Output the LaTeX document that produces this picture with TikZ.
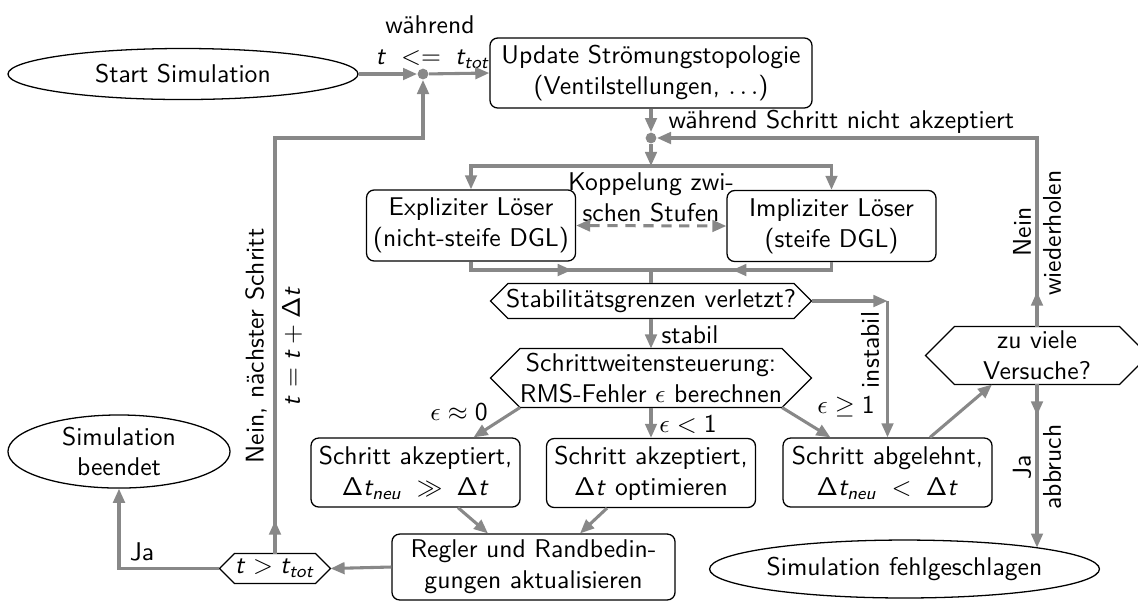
\documentclass[tikz,border=0pt]{standalone}
\usetikzlibrary{shapes.geometric,arrows.meta,calc}
\renewcommand{\familydefault}{\sfdefault}
\DeclareMathAlphabet{\mathsfit}{OT1}{cmss}{m}{sl}
\newcommand{\ti}{\mathsfit{t}}
\newcommand{\dT}{\mathsf{\Delta}\mathsfit{t}}
\definecolor{lc}{RGB}{136,136,136}
\tikzset{
  nodeline/.style={draw=black, line width=0.5pt},
  box/.style={nodeline, rectangle, rounded corners=3pt, align=center, inner sep=1pt},
  ell/.style={nodeline, ellipse, align=center, inner sep=0pt},
  hexn/.style={rectangle, draw=none, align=center, inner sep=0pt},
  ln/.style={draw=lc, line width=1.2pt},
  arr/.style={ln, -{Triangle[length=5.5pt,width=4.5pt]}},
  darr/.style={ln, dash pattern=on 4pt off 3pt, {Triangle[length=5.5pt,width=4.5pt]}-{Triangle[length=5.5pt,width=4.5pt]}},
  dotn/.style={circle, fill=lc, inner sep=0pt, minimum size=4.2pt},
  lbl/.style={inner sep=0pt, align=center},
  vlbl/.style={inner sep=0pt, align=center, rotate=90}
}
\newcommand{\hexo}[1]{%
  \draw[nodeline] let \p1=(#1.north), \p2=(#1.center), \n1={\y1-\y2} in
  (#1.west) -- ($(#1.north west)+(\n1,0pt)$) -- ($(#1.north east)+(-\n1,0pt)$) -- (#1.east)
  -- ($(#1.south east)+(-\n1,0pt)$) -- ($(#1.south west)+(\n1,0pt)$) -- cycle;}
\begin{document}
\begin{tikzpicture}[x=0.39pt,y=-0.39pt]
\useasboundingbox (0,0) rectangle (1138,600);
% nodes
\node[ell, minimum width=136.5pt, minimum height=19.9pt] (start) at (183,74) {Start Simulation};
\node[dotn] (d1) at (423,74) {};
\node[box, minimum width=125.6pt, minimum height=27.3pt] (upd) at (651,73) {Update Strömungstopologie\\(Ventilstellungen, $\ldots$)};
\node[dotn] (d2) at (651,138) {};
\coordinate (split) at (651,166);
\node[box, minimum width=81.5pt, minimum height=27.7pt] (expl) at (471,225.5) {Expliziter Löser\\(nicht-steife DGL)};
\node[box, minimum width=81.5pt, minimum height=27.7pt] (impl) at (831.5,226) {Impliziter Löser\\(steife DGL)};
\node[lbl] (kop) at (651,197) {Koppelung zwi-\\schen Stufen};
\coordinate (merge) at (651,270);
\node[hexn, minimum width=124.8pt, minimum height=13.3pt] (stab) at (651,301) {Stabilitätsgrenzen verletzt?};
\node[hexn, minimum width=124.8pt, minimum height=22.6pt] (sw) at (651,378) {Schrittweitensteuerung:\\RMS-Fehler $\epsilon$ berechnen};
\node[box, minimum width=81.5pt, minimum height=26.9pt] (akz1) at (415.5,472.5) {Schritt akzeptiert,\\$\dT_{\mathsfit{neu}} \;\gg\; \dT$};
\node[box, minimum width=81.5pt, minimum height=26.9pt] (akz2) at (651,473) {Schritt akzeptiert,\\$\dT$ optimieren};
\node[box, minimum width=81.5pt, minimum height=26.9pt] (abg) at (887.5,472.5) {Schritt abgelehnt,\\$\dT_{\mathsfit{neu}} \;<\; \dT$};
\node[box, minimum width=110.4pt, minimum height=25.7pt] (reg) at (533.5,567) {Regler und Randbedin-\\gungen aktualisieren};
\node[hexn, minimum width=42.9pt, minimum height=11.3pt] (tc) at (275,568.5) {$\ti > \ti_{\mathsfit{tot}}$};
\node[ell, minimum width=86.6pt, minimum height=28.5pt] (end) at (119,451.5) {Simulation\\beendet};
\node[hexn, minimum width=86.6pt, minimum height=22.2pt] (zv) at (1037,355.5) {zu viele\\Versuche?};
\node[ell, minimum width=149.4pt, minimum height=22.6pt] (fail) at (904.5,569) {Simulation fehlgeschlagen};
\foreach \hx in {stab,sw,tc,zv} {\hexo{\hx}}
% labels
\node[lbl] (wh) at (430,25) {während};
\node[lbl] (tle) at (433,59) {$\ti \;<=\; \ti_{\mathsfit{tot}}$};
\node[lbl, anchor=west] (wsn) at (668,122) {während Schritt nicht akzeptiert};
\node[lbl] (lstab) at (690,335) {stabil};
\node[lbl] (le0) at (459,412) {$\epsilon \approx \mathsf{0}$};
\node[lbl] (le1) at (688,425) {$\epsilon < \mathsf{1}$};
\node[lbl] (le2) at (846,407) {$\epsilon \geq \mathsf{1}$};
\node[lbl] (lja1) at (142,552) {Ja};
\node[vlbl] (lnein1) at (256,346) {Nein, nächster Schritt};
\node[vlbl] (ltt) at (292,346) {$\ti = \ti + \dT$};
\node[vlbl] (linst) at (870,350) {instabil};
\node[vlbl] (lnein2) at (1022,232) {Nein};
\node[vlbl] (lwied) at (1052,233) {wiederholen};
\node[vlbl] (lja2) at (1022,467) {Ja};
\node[vlbl] (labb) at (1052,467) {abbruch};
% connectors
\draw[arr] (start.east) -- (d1);
\draw[arr] (d1) -- (upd.west);
\draw[arr] (upd.south) -- (d2);
\draw[arr] (d2) -- (split);
\draw[arr] (split) -| (expl.north);
\draw[arr] (split) -| (impl.north);
\draw[darr] (expl.east) -- (impl.west);
\draw[ln] (expl.south) |- (merge);
\draw[arr] (expl.south |- merge) -- ($(expl.south |- merge)!0.56!(merge)$);
\draw[ln] (impl.south) |- (merge);
\draw[arr] (impl.south |- merge) -- ($(impl.south |- merge)!0.55!(merge)$);
\draw[ln] (merge) -- (stab.north);
\draw[arr] (stab.south) -- (sw.north);
\draw[arr] (stab.east) -- (abg.north |- stab.east);
\draw[arr] (abg.north |- stab.east) -- (abg.north);
\draw[arr] ($(sw.south)+(-131,0)$) -- ($(akz1.north)+(58,0)$);
\draw[arr] (sw.south) -- (akz2.north);
\draw[arr] ($(sw.south)+(131,0)$) -- ($(abg.north)+(-57,0)$);
\draw[arr] ($(akz1.south)+(42.5,0)$) -- ($(reg.north)+(-45.5,0)$);
\draw[arr] ($(akz2.south)+(-44,0)$) -- ($(reg.north)+(46.5,0)$);
\draw[arr] ($(abg.north)+(42.5,0)$) -- ($(zv.south)+(-45,0)$);
\draw[arr] (reg.west) -- (tc.east);
\draw[arr] (tc.west) -| (end.south);
\draw[arr] (tc.north) |- (d1 |- d2) -- (d1);
\draw[arr] (tc.north) -- ($(tc.north)+(0,-33)$);
\draw[arr] (zv.north) |- (d2);
\draw[arr] (zv.north) -- ($(zv.north)+(0,-35)$);
\draw[arr] (zv.south) -- (zv.south |- fail.9);
\draw[arr] (zv.south) -- ($(zv.south)+(0,31)$);
\end{tikzpicture}
\end{document}
